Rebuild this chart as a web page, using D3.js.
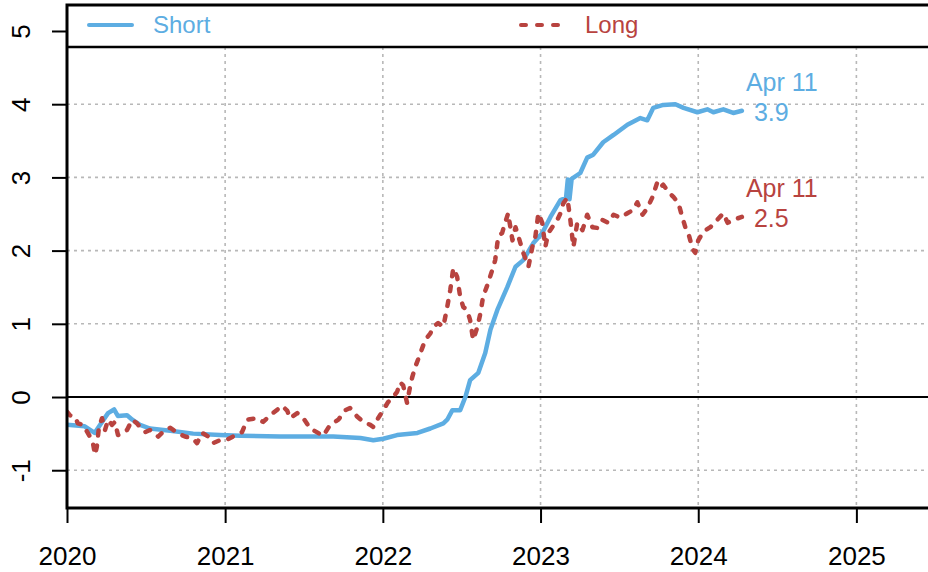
<!DOCTYPE html>
<html>
<head>
<meta charset="utf-8">
<script src="https://cdn.jsdelivr.net/npm/d3@7"></script>
<style>
  html, body { margin: 0; padding: 0; background: #fff; }
  svg { display: block; font-family: "Liberation Sans", Arial, Helvetica, sans-serif; }
</style>
</head>
<body>
<div id="chart"></div>
<script>
// Short vs long rate series, 2020 - Apr 2024

const shortDates = ["2020-01-01","2020-02-11","2020-03-05","2020-03-22","2020-04-05","2020-04-19","2020-04-28","2020-05-19","2020-05-31","2020-06-18","2020-07-11","2020-08-27","2020-10-19","2020-12-20","2021-02-05","2021-05-08","2021-09-08","2021-11-10","2021-12-10","2022-01-02","2022-02-03","2022-03-22","2022-04-21","2022-05-21","2022-05-30","2022-06-11","2022-06-29","2022-07-11","2022-07-22","2022-08-10","2022-08-26","2022-09-07","2022-09-23","2022-10-16","2022-11-04","2022-11-22","2022-12-15","2023-01-05","2023-01-24","2023-02-16","2023-03-01","2023-03-05","2023-03-09","2023-03-14","2023-04-03","2023-04-19","2023-05-03","2023-05-26","2023-06-19","2023-07-21","2023-08-20","2023-09-05","2023-09-19","2023-10-12","2023-11-09","2023-11-28","2023-12-30","2024-01-22","2024-02-05","2024-02-28","2024-03-22","2024-04-11"];
const shortValues = [-0.38,-0.40,-0.49,-0.34,-0.22,-0.17,-0.26,-0.25,-0.31,-0.38,-0.43,-0.46,-0.50,-0.52,-0.53,-0.54,-0.54,-0.56,-0.59,-0.57,-0.52,-0.49,-0.43,-0.36,-0.31,-0.18,-0.18,0.00,0.23,0.33,0.60,0.92,1.19,1.50,1.78,1.87,2.10,2.24,2.46,2.69,2.72,2.97,2.70,2.98,3.06,3.27,3.31,3.48,3.58,3.72,3.81,3.78,3.95,3.99,4.00,3.95,3.89,3.93,3.89,3.93,3.88,3.91];

const longDates = ["2020-01-01","2020-01-08","2020-01-20","2020-01-26","2020-02-07","2020-02-23","2020-03-01","2020-03-06","2020-03-10","2020-03-15","2020-03-22","2020-03-29","2020-04-05","2020-04-14","2020-04-21","2020-04-28","2020-05-10","2020-05-19","2020-05-31","2020-06-11","2020-06-18","2020-06-30","2020-07-11","2020-07-30","2020-08-15","2020-08-27","2020-09-12","2020-09-30","2020-10-17","2020-10-28","2020-11-09","2020-11-23","2020-12-04","2020-12-20","2021-01-06","2021-01-19","2021-02-09","2021-02-21","2021-03-16","2021-03-30","2021-04-15","2021-05-13","2021-05-25","2021-05-31","2021-06-17","2021-07-01","2021-07-17","2021-08-04","2021-08-16","2021-09-01","2021-09-20","2021-10-06","2021-10-17","2021-11-03","2021-11-17","2021-12-03","2021-12-10","2021-12-21","2022-01-02","2022-01-13","2022-01-25","2022-02-03","2022-02-10","2022-02-17","2022-02-26","2022-03-05","2022-03-10","2022-03-17","2022-03-29","2022-04-09","2022-04-21","2022-04-28","2022-05-09","2022-05-21","2022-05-30","2022-06-06","2022-06-13","2022-06-22","2022-06-29","2022-07-06","2022-07-15","2022-07-22","2022-07-29","2022-08-08","2022-08-15","2022-08-21","2022-08-31","2022-09-11","2022-09-18","2022-09-25","2022-10-04","2022-10-11","2022-10-18","2022-10-28","2022-11-04","2022-11-11","2022-11-22","2022-12-04","2022-12-13","2022-12-20","2022-12-27","2023-01-05","2023-01-12","2023-01-19","2023-01-28","2023-02-09","2023-02-16","2023-02-23","2023-03-04","2023-03-11","2023-03-18","2023-03-27","2023-04-08","2023-04-19","2023-05-01","2023-05-12","2023-05-24","2023-06-07","2023-06-19","2023-07-05","2023-07-21","2023-08-02","2023-08-13","2023-08-25","2023-09-05","2023-09-17","2023-09-28","2023-10-05","2023-10-12","2023-10-24","2023-11-05","2023-11-16","2023-11-25","2023-12-02","2023-12-09","2023-12-19","2023-12-25","2024-01-01","2024-01-13","2024-01-29","2024-02-14","2024-02-28","2024-03-09","2024-03-22","2024-04-11"];
const longValues = [-0.20,-0.25,-0.27,-0.36,-0.38,-0.54,-0.63,-0.79,-0.68,-0.41,-0.29,-0.45,-0.31,-0.38,-0.34,-0.52,-0.48,-0.45,-0.31,-0.36,-0.41,-0.48,-0.45,-0.54,-0.45,-0.42,-0.49,-0.54,-0.56,-0.63,-0.49,-0.54,-0.63,-0.59,-0.58,-0.54,-0.48,-0.31,-0.29,-0.34,-0.25,-0.12,-0.19,-0.29,-0.22,-0.29,-0.43,-0.49,-0.53,-0.38,-0.31,-0.18,-0.15,-0.27,-0.34,-0.38,-0.41,-0.29,-0.18,-0.07,0.00,0.07,0.20,0.16,-0.08,0.14,0.27,0.41,0.60,0.78,0.87,0.96,1.01,0.96,1.23,1.46,1.76,1.64,1.37,1.23,1.19,1.05,0.78,0.96,1.15,1.37,1.53,1.73,1.87,2.19,2.24,2.38,2.51,2.14,2.32,2.19,1.97,1.78,2.05,2.19,2.51,2.38,2.05,2.24,2.32,2.42,2.51,2.65,2.72,2.42,2.05,2.38,2.28,2.49,2.32,2.31,2.42,2.38,2.49,2.45,2.51,2.55,2.66,2.49,2.58,2.73,2.93,2.86,2.90,2.80,2.73,2.65,2.46,2.32,2.24,2.02,1.97,2.14,2.26,2.32,2.42,2.51,2.38,2.42,2.46];

const xTickYears = [2020, 2021, 2022, 2023, 2024, 2025];
const yTicks = [-1, 0, 1, 2, 3, 4, 5];
const seriesNames = ["Short", "Long"];
const lastLabel = "Apr 11";

(() => {

const W = 928, H = 572;
const pl = 67, pr = 932, pt = 5, pb = 508;
const blue = "#5DADE2", red = "#B8433F";

const parse = d3.timeParse("%Y-%m-%d");
const shortData = shortDates.map((d, i) => ({ date: parse(d), value: shortValues[i] }));
const longData = longDates.map((d, i) => ({ date: parse(d), value: longValues[i] }));

const svg = d3.select("#chart").append("svg")
  .attr("width", W)
  .attr("height", H);

const x = d3.scaleTime()
  .domain([parse("2020-01-01"), parse("2025-06-25")])
  .range([pl, pr]);

const y = d3.scaleLinear()
  .domain([-1.516, 5.355])
  .range([pb, pt]);

svg.append("clipPath").attr("id", "plot-clip")
  .append("rect")
  .attr("x", pl).attr("y", pt)
  .attr("width", pr - pl).attr("height", pb - pt);

// grid
const grid = svg.append("g").attr("clip-path", "url(#plot-clip)");
grid.selectAll(".vgrid")
  .data(xTickYears)
  .join("line")
  .attr("x1", d => x(new Date(d, 0, 1)))
  .attr("x2", d => x(new Date(d, 0, 1)))
  .attr("y1", pt).attr("y2", pb)
  .attr("stroke", "#b8b8b8")
  .attr("stroke-width", 1.6)
  .attr("stroke-dasharray", "3 4");
grid.selectAll(".hgrid")
  .data(yTicks.filter(d => d !== 0))
  .join("line")
  .attr("x1", pl).attr("x2", pr)
  .attr("y1", d => y(d)).attr("y2", d => y(d))
  .attr("stroke", "#b8b8b8")
  .attr("stroke-width", 1.6)
  .attr("stroke-dasharray", "3 4");

// zero line
grid.append("line")
  .attr("x1", pl).attr("x2", pr)
  .attr("y1", y(0)).attr("y2", y(0))
  .attr("stroke", "#000")
  .attr("stroke-width", 2);

const line = d3.line()
  .x(d => x(d.date))
  .y(d => y(d.value));

const plot = svg.append("g").attr("clip-path", "url(#plot-clip)");

plot.append("path")
  .datum(shortData)
  .attr("fill", "none")
  .attr("stroke", blue)
  .attr("stroke-width", 4.5)
  .attr("stroke-linejoin", "round")
  .attr("stroke-linecap", "round")
  .attr("d", line);

plot.append("path")
  .datum(longData)
  .attr("fill", "none")
  .attr("stroke", red)
  .attr("stroke-width", 4.5)
  .attr("stroke-linejoin", "round")
  .attr("stroke-linecap", "round")
  .attr("stroke-dasharray", "5 10")
  .attr("d", line);

// end labels
const ends = [
  { d: shortData[shortData.length - 1], color: blue },
  { d: longData[longData.length - 1], color: red }
];
ends.forEach(e => {
  const ex = x(e.d.date), ey = y(e.d.value);
  svg.append("text")
    .attr("x", ex + 4).attr("y", ey - 20)
    .attr("fill", e.color)
    .attr("font-size", 25)
    .text(lastLabel);
  svg.append("text")
    .attr("x", ex + 12).attr("y", ey + 10)
    .attr("fill", e.color)
    .attr("font-size", 25)
    .text(d3.format(".1f")(e.d.value));
});

// legend box
const legend = svg.append("g");
legend.append("rect")
  .attr("x", pl).attr("y", pt)
  .attr("width", pr - pl).attr("height", 42)
  .attr("fill", "#fff");
legend.append("line")
  .attr("x1", pl).attr("x2", pr)
  .attr("y1", 47).attr("y2", 47)
  .attr("stroke", "#000")
  .attr("stroke-width", 2.5);
legend.append("line")
  .attr("x1", 89).attr("x2", 132)
  .attr("y1", 25).attr("y2", 25)
  .attr("stroke", blue)
  .attr("stroke-width", 4)
  .attr("stroke-linecap", "round");
legend.append("text")
  .attr("x", 153).attr("y", 33)
  .attr("fill", blue)
  .attr("font-size", 24)
  .text(seriesNames[0]);
legend.append("line")
  .attr("x1", 521).attr("x2", 560)
  .attr("y1", 25).attr("y2", 25)
  .attr("stroke", red)
  .attr("stroke-width", 4)
  .attr("stroke-linecap", "round")
  .attr("stroke-dasharray", "5 11");
legend.append("text")
  .attr("x", 585).attr("y", 33)
  .attr("fill", red)
  .attr("font-size", 24)
  .text(seriesNames[1]);

// axes
const xAxis = svg.append("g")
  .attr("transform", `translate(0,${pb})`)
  .call(d3.axisBottom(x)
    .tickValues(xTickYears.map(d => new Date(d, 0, 1)))
    .tickFormat(d3.timeFormat("%Y"))
    .tickSize(15)
    .tickSizeOuter(0));
xAxis.select(".domain").remove();
xAxis.selectAll(".tick line").attr("stroke", "#000").attr("stroke-width", 2);
xAxis.selectAll(".tick text")
  .attr("y", 57).attr("dy", 0)
  .attr("fill", "#000")
  .attr("font-size", 26)
  .attr("font-family", "Liberation Sans, Arial, sans-serif");

const yAxis = svg.append("g")
  .attr("transform", `translate(${pl},0)`)
  .call(d3.axisLeft(y)
    .tickValues(yTicks)
    .tickFormat(d => String(d))
    .tickSize(15)
    .tickSizeOuter(0));
yAxis.select(".domain").remove();
yAxis.selectAll(".tick line").attr("stroke", "#000").attr("stroke-width", 2);
yAxis.selectAll(".tick text")
  .attr("x", 0).attr("dy", 0).attr("y", 0)
  .attr("transform", "translate(-37,0) rotate(-90)")
  .attr("text-anchor", "middle")
  .attr("fill", "#000")
  .attr("font-size", 26)
  .attr("font-family", "Liberation Sans, Arial, sans-serif");

// frame
svg.append("rect")
  .attr("x", pl).attr("y", pt)
  .attr("width", pr - pl).attr("height", pb - pt)
  .attr("fill", "none")
  .attr("stroke", "#000")
  .attr("stroke-width", 3);

})();
</script>
</body>
</html>
